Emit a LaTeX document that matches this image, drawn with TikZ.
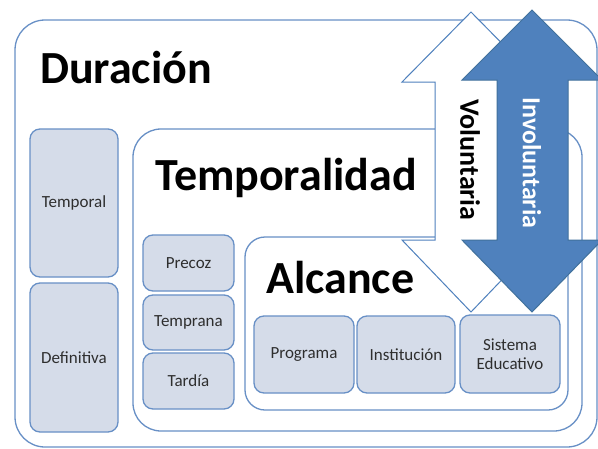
\documentclass[tikz,border=0pt]{standalone}
\usepackage{fontspec}
\setmainfont{Carlito}
\definecolor{boxline}{HTML}{6890C6}
\definecolor{boxfill}{HTML}{D5DCE9}
\definecolor{arrowblue}{HTML}{4F81BD}
\definecolor{arrowedge}{HTML}{41719C}
\definecolor{smalltext}{HTML}{2E2E2E}
\begin{document}
\begin{tikzpicture}[x=1pt,y=-1pt,
  bigbox/.style={draw=boxline,line width=1.3pt,fill=white,inner sep=0pt},
  smallbox/.style={draw=boxline,line width=1.3pt,fill=boxfill,rounded corners=10pt,inner sep=0pt,
    text=smalltext,font=\fontsize{17}{19}\selectfont,align=center},
  title/.style={anchor=base west,inner sep=0pt,font=\bfseries\fontsize{46}{50}\selectfont}]
\useasboundingbox (0,0) rectangle (598,448);
\clip (0,0) rectangle (598,448);
% Duracion
\node[bigbox,rounded corners=30pt,minimum width=582pt,minimum height=427pt] (dur) at (306,233.5) {};
\node[title] (durt) at (40,83) {Duración};
\node[smallbox,minimum width=88pt,minimum height=148pt] (temporal) at (74,203) {Temporal};
\node[smallbox,minimum width=88pt,minimum height=149pt] (definitiva) at (74,357.5) {Definitiva};
% Temporalidad
\node[bigbox,rounded corners=28pt,minimum width=449pt,minimum height=302pt] (tem) at (357.5,280) {};
\node[title] (temt) at (155,190) {Temporalidad};
\node[smallbox,minimum width=91pt,minimum height=56pt] (precoz) at (188.5,263) {Precoz};
\node[smallbox,minimum width=91pt,minimum height=55pt] (temprana) at (188.5,322.5) {Temprana};
\node[smallbox,minimum width=91pt,minimum height=56pt] (tardia) at (188.5,381) {Tardía};
% Alcance
\node[bigbox,rounded corners=20pt,minimum width=323pt,minimum height=173pt] (alc) at (406.5,323.5) {};
\node[title] (alct) at (266,293) {Alcance};
\node[smallbox,minimum width=100pt,minimum height=77pt] (programa) at (304,354.5) {Programa};
\node[smallbox,minimum width=98pt,minimum height=77pt] (institucion) at (406,354.5) {Institución};
\node[smallbox,minimum width=100pt,minimum height=78pt] (sistema) at (510,354) {Sistema\\Educativo};
% Voluntaria arrow
\draw[draw=arrowblue,line width=1pt,fill=white,line join=miter]
  (471,12) -- (540,82) -- (507,82) -- (507,240) -- (540,240) -- (471,312)
  -- (402,240) -- (435,240) -- (435,82) -- (402,82) -- cycle;
\node[rotate=-90,font=\bfseries\fontsize{28}{30}\selectfont,inner sep=0pt] (vol) at (470,160) {Voluntaria};
% Involuntaria arrow
\draw[draw=arrowedge,line width=1pt,fill=arrowblue,line join=miter]
  (532,10) -- (602,80) -- (568,80) -- (568,240) -- (602,240) -- (532,312)
  -- (462,240) -- (497,240) -- (497,80) -- (462,80) -- cycle;
\node[rotate=-90,text=white,font=\bfseries\fontsize{26}{28}\selectfont,inner sep=0pt] (invol) at (532,163) {Involuntaria};
\end{tikzpicture}
\end{document}
